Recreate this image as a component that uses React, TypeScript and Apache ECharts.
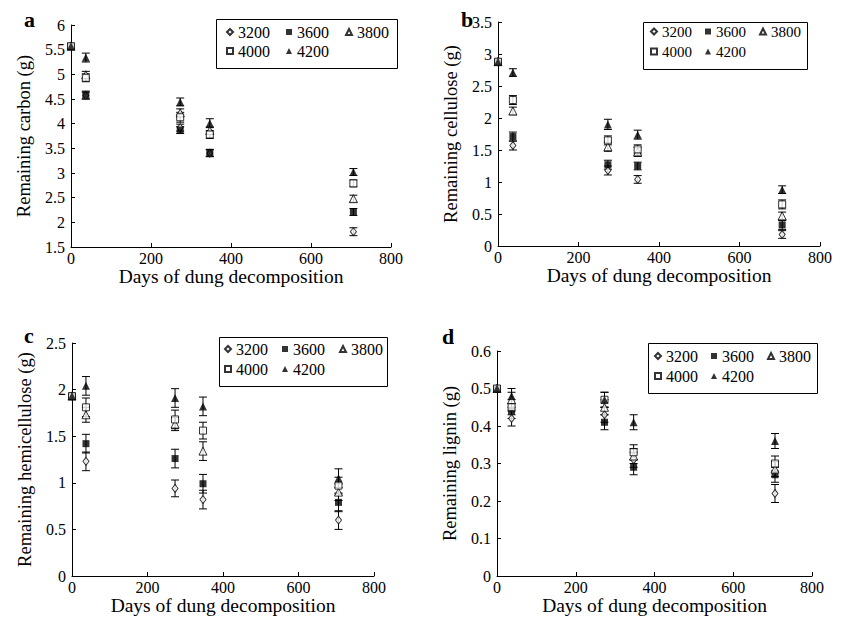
import React, { useEffect, useRef } from "react";
import * as echarts from "echarts";

// Sampling days (x) shared by all panels
const days = [0, 37, 273, 347, 706];
const treatments = ["3200", "3600", "3800", "4000", "4200"];

// Panel a: remaining carbon (g)
const carbon3200 = [5.57, 4.57, 3.92, 3.40, 1.81];
const carbon3600 = [5.57, 4.58, 3.87, 3.41, 2.21];
const carbon3800 = [5.57, 4.99, 4.22, 3.86, 2.48];
const carbon4000 = [5.57, 4.93, 4.13, 3.78, 2.79];
const carbon4200 = [5.57, 5.34, 4.44, 4.01, 3.02];
const carbonErr3200 = [0, 0.07, 0.07, 0.07, 0.08];
const carbonErr3600 = [0, 0.08, 0.07, 0.07, 0.07];
const carbonErr3800 = [0, 0.07, 0.08, 0.07, 0.07];
const carbonErr4000 = [0, 0.08, 0.1, 0.08, 0.07];
const carbonErr4200 = [0, 0.09, 0.08, 0.09, 0.07];

// Panel b: remaining cellulose (g)
const cell3200 = [2.88, 1.57, 1.18, 1.04, 0.18];
const cell3600 = [2.88, 1.71, 1.27, 1.25, 0.33];
const cell3800 = [2.88, 2.11, 1.55, 1.47, 0.47];
const cell4000 = [2.88, 2.28, 1.65, 1.51, 0.65];
const cell4200 = [2.88, 2.71, 1.90, 1.74, 0.88];
const cellErr3200 = [0, 0.07, 0.07, 0.06, 0.06];
const cellErr3600 = [0, 0.07, 0.07, 0.06, 0.07];
const cellErr3800 = [0, 0.06, 0.07, 0.07, 0.06];
const cellErr4000 = [0, 0.07, 0.07, 0.07, 0.07];
const cellErr4200 = [0, 0.06, 0.08, 0.07, 0.06];

// Panel c: remaining hemicellulose (g)
const hemi3200 = [1.93, 1.23, 0.94, 0.82, 0.60];
const hemi3600 = [1.93, 1.42, 1.26, 0.99, 0.79];
const hemi3800 = [1.93, 1.73, 1.63, 1.34, 0.90];
const hemi4000 = [1.93, 1.81, 1.68, 1.56, 0.97];
const hemi4200 = [1.93, 2.04, 1.91, 1.82, 1.05];
const hemiErr3200 = [0, 0.1, 0.09, 0.1, 0.1];
const hemiErr3600 = [0, 0.1, 0.1, 0.1, 0.1];
const hemiErr3800 = [0, 0.08, 0.07, 0.1, 0.09];
const hemiErr4000 = [0, 0.1, 0.1, 0.09, 0.09];
const hemiErr4200 = [0, 0.1, 0.1, 0.1, 0.1];

// Panel d: remaining lignin (g)
const lig3200 = [0.50, 0.42, 0.43, 0.31, 0.22];
const lig3600 = [0.50, 0.44, 0.41, 0.29, 0.27];
const lig3800 = [0.50, 0.47, 0.45, 0.32, 0.285];
const lig4000 = [0.50, 0.45, 0.47, 0.33, 0.30];
const lig4200 = [0.50, 0.48, 0.47, 0.41, 0.36];
const ligErr3200 = [0, 0.02, 0.02, 0.02, 0.024];
const ligErr3600 = [0, 0.02, 0.02, 0.02, 0.02];
const ligErr3800 = [0, 0.02, 0.02, 0.02, 0.02];
const ligErr4000 = [0, 0.02, 0.02, 0.02, 0.02];
const ligErr4200 = [0, 0.02, 0.02, 0.02, 0.02];

const xTicks = { min: 0, max: 800, interval: 200 };
const yTitles = [
  "Remaining carbon (g)",
  "Remaining cellulose (g)",
  "Remaining hemicellulose (g)",
  "Remaining lignin (g)",
];
const xTitle = "Days of dung decomposition";
const panelLetters = ["a", "b", "c", "d"];

const FONT = "'Liberation Serif', 'Times New Roman', serif";

const symbolStyles: Record<string, any> = {
  "3200": { symbol: "diamond", symbolSize: [6, 8], itemStyle: { color: "#fff", borderColor: "#000", borderWidth: 1 } },
  "3600": { symbol: "rect", symbolSize: 7, itemStyle: { color: "#000", borderColor: "#000", borderWidth: 0 } },
  "3800": { symbol: "triangle", symbolSize: 8, itemStyle: { color: "#fff", borderColor: "#000", borderWidth: 1 } },
  "4000": { symbol: "rect", symbolSize: 7, itemStyle: { color: "#fff", borderColor: "#000", borderWidth: 1 } },
  "4200": { symbol: "triangle", symbolSize: 8, itemStyle: { color: "#000", borderColor: "#000", borderWidth: 0 } },
};

const panels = [
  {
    values: [carbon3200, carbon3600, carbon3800, carbon4000, carbon4200],
    errors: [carbonErr3200, carbonErr3600, carbonErr3800, carbonErr4000, carbonErr4200],
    y: { min: 1.5, max: 6, interval: 0.5 },
    grid: { left: 71, top: 25, width: 320, height: 222 },
    legend: { box: [216, 19, 181, 49], left: 226, rows: [33, 52], gap: 16, font: 16 },
    letter: [24, 8],
  },
  {
    values: [cell3200, cell3600, cell3800, cell4000, cell4200],
    errors: [cellErr3200, cellErr3600, cellErr3800, cellErr4000, cellErr4200],
    y: { min: 0, max: 3.5, interval: 0.5 },
    grid: { left: 498, top: 22, width: 322, height: 224 },
    legend: { box: [643, 22, 164, 47], left: 650, rows: [33, 53], gap: 13, font: 15 },
    letter: [461, 8],
  },
  {
    values: [hemi3200, hemi3600, hemi3800, hemi4000, hemi4200],
    errors: [hemiErr3200, hemiErr3600, hemiErr3800, hemiErr4000, hemiErr4200],
    y: { min: 0, max: 2.5, interval: 0.5 },
    grid: { left: 72, top: 343, width: 302, height: 233 },
    legend: { box: [219, 337, 168, 49], left: 224, rows: [350, 370], gap: 14, font: 16 },
    letter: [24, 324],
  },
  {
    values: [lig3200, lig3600, lig3800, lig4000, lig4200],
    errors: [ligErr3200, ligErr3600, ligErr3800, ligErr4000, ligErr4200],
    y: { min: 0, max: 0.6, interval: 0.1 },
    grid: { left: 497, top: 351, width: 315, height: 225 },
    legend: { box: [648, 343, 169, 50], left: 654, rows: [357, 377], gap: 13, font: 16 },
    letter: [442, 325],
  },
];

function errorRenderItem(params: any, api: any) {
  const x = api.value(0);
  const y = api.value(1);
  const e = api.value(2);
  if (!e) return { type: "group", children: [] };
  const top = api.coord([x, y + e]);
  const bot = api.coord([x, y - e]);
  const hw = 4;
  const style = { stroke: "#000", lineWidth: 1 };
  return {
    type: "group",
    children: [
      { type: "line", shape: { x1: top[0], y1: top[1], x2: bot[0], y2: bot[1] }, style },
      { type: "line", shape: { x1: top[0] - hw, y1: top[1], x2: top[0] + hw, y2: top[1] }, style },
      { type: "line", shape: { x1: bot[0] - hw, y1: bot[1], x2: bot[0] + hw, y2: bot[1] }, style },
    ],
  };
}

function buildOption() {
  const grid: any[] = [];
  const xAxis: any[] = [];
  const yAxis: any[] = [];
  const series: any[] = [];
  const legend: any[] = [];
  const graphic: any[] = [];

  panels.forEach((p, i) => {
    grid.push({ ...p.grid });
    xAxis.push({
      type: "value",
      gridIndex: i,
      min: xTicks.min,
      max: xTicks.max,
      interval: xTicks.interval,
      name: xTitle,
      nameLocation: "middle",
      nameGap: 19,
      nameMoveOverlap: false,
      nameTextStyle: { fontFamily: FONT, fontSize: 19.5, color: "#000", verticalAlign: "top" },
      axisLine: { onZero: false, lineStyle: { color: "#000", width: 1 } },
      axisTick: { inside: true, length: 4, lineStyle: { color: "#000" } },
      axisLabel: { fontFamily: FONT, fontSize: 16, color: "#000", margin: 3 },
      splitLine: { show: false },
    });
    yAxis.push({
      type: "value",
      gridIndex: i,
      min: p.y.min,
      max: p.y.max,
      interval: p.y.interval,
      name: yTitles[i],
      nameLocation: "middle",
      nameGap: 38,
      nameTextStyle: { fontFamily: FONT, fontSize: 18.5, color: "#000" },
      axisLine: { onZero: false, lineStyle: { color: "#000", width: 1 } },
      axisTick: { inside: true, length: 4, lineStyle: { color: "#000" } },
      axisLabel: { fontFamily: FONT, fontSize: 16, color: "#000", margin: 6 },
      splitLine: { show: false },
    });

    treatments.forEach((t, k) => {
      series.push({
        type: "custom",
        name: t + "-err-" + i,
        xAxisIndex: i,
        yAxisIndex: i,
        renderItem: errorRenderItem,
        encode: { x: 0, y: 1 },
        data: days.map((d, j) => [d, p.values[k][j], p.errors[k][j]]),
        z: 1,
        silent: true,
      });
    });
    treatments.forEach((t, k) => {
      const s = symbolStyles[t];
      series.push({
        type: "scatter",
        name: t,
        xAxisIndex: i,
        yAxisIndex: i,
        symbol: s.symbol,
        symbolSize: s.symbolSize,
        itemStyle: s.itemStyle,
        data: days.map((d, j) => [d, p.values[k][j]]),
        z: 2,
        clip: false,
      });
    });

    const lg = p.legend;
    const rowsData = [treatments.slice(0, 3), treatments.slice(3)];
    rowsData.forEach((rd, r) => {
      legend.push({
        data: rd,
        left: lg.left,
        top: lg.rows[r] - Math.round(lg.font * 0.58),
        orient: "horizontal",
        itemWidth: 6,
        itemHeight: 6,
        itemGap: lg.gap,
        padding: 0,
        selectedMode: false,
        textStyle: { fontFamily: FONT, fontSize: lg.font, color: "#000" },
      });
    });
    graphic.push({
      type: "rect",
      shape: { x: lg.box[0] + 0.5, y: lg.box[1] + 0.5, width: lg.box[2], height: lg.box[3] },
      style: { fill: "#fff", stroke: "#000", lineWidth: 1 },
      z: 0,
    });
    graphic.push({
      type: "text",
      x: p.letter[0],
      y: p.letter[1],
      style: { text: panelLetters[i], font: `bold 22px ${FONT}`, fill: "#000" },
      z: 5,
    });
  });

  return {
    animation: false,
    backgroundColor: "#fff",
    grid,
    xAxis,
    yAxis,
    series,
    legend,
    graphic,
  };
}

export default function App() {
  const ref = useRef<HTMLDivElement>(null);
  useEffect(() => {
    if (!ref.current) return;
    const chart = echarts.init(ref.current, undefined, { renderer: "svg" });
    chart.setOption(buildOption() as any);
    return () => chart.dispose();
  }, []);
  return (
    <div
      ref={ref}
      style={{ position: "fixed", left: 0, top: 0, width: 842, height: 624, background: "#fff" }}
    />
  );
}
